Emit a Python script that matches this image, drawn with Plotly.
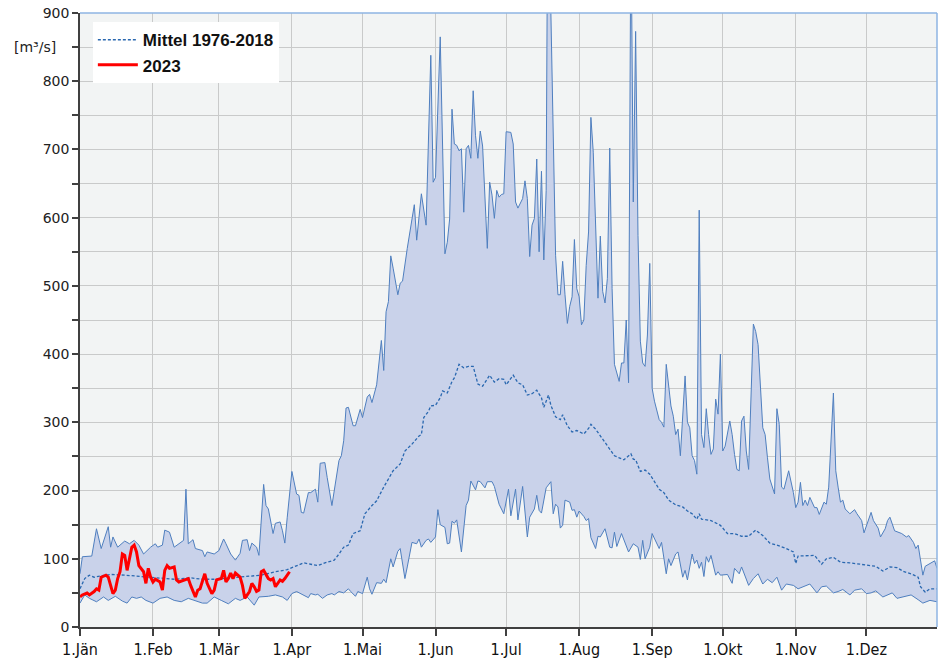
import plotly.graph_objects as go

# ---- x-axis categories (day of year of month starts) ----
month_days = [0, 31, 59, 90, 120, 151, 181, 212, 243, 273, 304, 334]
month_labels = ["1.Jän", "1.Feb", "1.Mär", "1.Apr", "1.Mai", "1.Jun",
                "1.Jul", "1.Aug", "1.Sep", "1.Okt", "1.Nov", "1.Dez"]

# ---- daily maximum 1976-2018 (day of year, m³/s) ----
max_q = [(0,78),(1,103),(5,104),(7,144),(9,115),(12,147),(13,117),(14,132),(16,117),(17,120),
         (19,126),(21,122),(23,127),(25,120),(27,107),(30,117),(32,122),(33,117),(35,120),(36,142),
         (38,139),(40,117),(42,122),(44,127),(45,202),(46,122),(48,128),(49,115),(52,112),(53,103),
         (54,110),(57,107),(59,112),(61,129),(62,122),(64,107),(66,98),(68,108),(69,127),(71,128),
         (72,112),(73,123),(75,117),(76,105),(78,209),(79,178),(80,173),(82,137),(83,152),(85,154),
         (86,141),(87,123),(88,160),(90,228),(92,195),(93,193),(94,168),(95,167),(97,197),(98,197),
         (100,202),(101,183),(102,240),(104,241),(105,219),(107,178),(110,244),(111,251),(112,273),
         (113,321),(114,322),(116,295),(117,295),(119,319),(120,307),(122,337),(123,341),(124,329),
         (126,355),(128,420),(129,376),(130,462),(131,477),(132,544),(133,526),(135,487),(136,504),
         (137,507),(139,555),(142,619),(143,567),(145,635),(147,589),(149,838),(150,652),(151,659),
         (153,865),(155,547),(156,564),(157,598),(158,759),(159,708),(160,706),(161,698),(162,701),
         (163,608),(164,701),(165,706),(166,687),(167,786),(168,720),(169,687),(170,727),(171,705),
         (173,555),(174,652),(175,633),(176,599),(177,640),(178,630),(179,634),(180,635),(181,726),
         (183,725),(184,708),(185,623),(186,614),(188,628),(189,654),(190,628),(191,543),(192,589),
         (193,599),(194,686),(195,550),(196,668),(197,538),(198,640),(199,1300),(200,900),(202,545),
         (203,487),(204,487),(205,536),(206,487),(207,445),(208,470),(209,484),(210,568),(211,496),
         (212,484),(213,443),(214,450),(215,530),(216,579),(217,747),(218,696),(219,598),(220,482),
         (221,573),(222,492),(223,475),(224,511),(225,702),(226,496),(227,385),(229,360),(230,387),
         (231,387),(232,450),(233,358),(234,1050),(235,623),(236,873),(237,574),(238,419),(239,387),
         (240,382),(241,428),(242,533),(243,350),(244,331),(246,304),(247,300),(248,293),(249,385),
         (250,353),(251,324),(252,309),(253,282),(254,290),(255,251),(257,368),(258,300),(259,292),
         (260,251),(261,244),(262,224),(263,611),(264,282),(265,263),(266,320),(267,282),(268,253),
         (269,261),(270,334),(271,312),(272,400),(273,258),(274,265),(276,302),(277,282),(278,253),
         (279,231),(280,229),(281,302),(282,309),(283,258),(284,231),(286,444),(287,433),(288,414),
         (290,292),(291,282),(292,248),(293,217),(295,195),(296,320),(297,297),(298,205),(299,202),
         (300,217),(301,229),(303,197),(304,175),(305,183),(306,212),(307,178),(308,186),(309,178),
         (310,190),(312,175),(313,175),(314,165),(316,183),(317,180),(318,205),(320,343),(321,229),
         (322,205),(323,183),(324,186),(325,173),(327,166),(329,172),(330,166),(331,160),(332,156),
         (333,138),(335,156),(336,168),(337,156),(339,145),(340,132),(342,144),(343,156),(344,161),
         (346,141),(348,139),(349,137),(351,132),(352,134),(354,124),(355,115),(356,120),(357,98),
         (358,76),(359,89),(361,93),(363,97),(364,86)]

# ---- daily minimum 1976-2018 ----
min_q = [(0,35),(2,47),(4,42),(7,37),(10,44),(12,39),(15,45),(18,38),(20,35),(22,44),(24,42),
         (26,44),(28,39),(31,35),(34,42),(37,44),(40,39),(43,37),(46,42),(49,38),(52,35),(54,35),
         (57,44),(60,39),(63,34),(66,42),(68,39),(71,44),(74,32),(76,44),(80,45),(83,47),(86,44),
         (88,39),(90,49),(92,52),(95,47),(97,43),(98,49),(100,47),(101,48),(103,42),(105,47),(107,49),
         (108,47),(110,52),(112,50),(114,56),(115,52),(117,45),(118,52),(120,49),(122,73),(123,56),
         (124,48),(126,65),(128,64),(129,70),(130,65),(132,100),(133,88),(135,111),(136,115),(138,71),
         (139,88),(141,124),(143,122),(144,129),(145,117),(147,127),(148,129),(149,124),(151,132),
         (152,172),(153,150),(155,146),(156,122),(157,123),(158,155),(159,152),(160,157),(162,110),
         (164,178),(165,186),(166,214),(168,201),(169,214),(170,213),(172,204),(173,213),(175,213),
         (176,206),(178,180),(180,166),(182,202),(183,163),(185,202),(186,157),(188,206),(190,132),
         (191,161),(193,173),(194,193),(195,171),(196,167),(198,204),(200,213),(201,166),(202,180),
         (203,176),(204,145),(205,149),(206,186),(208,183),(209,171),(210,172),(211,161),(212,170),
         (214,162),(215,156),(216,159),(217,131),(219,115),(220,133),(221,132),(223,144),(225,117),
         (226,116),(227,139),(228,118),(230,137),(232,120),(233,110),(235,122),(237,117),(238,99),
         (239,127),(240,100),(242,117),(243,137),(244,129),(246,115),(247,124),(249,78),(250,100),
         (251,90),(253,107),(254,110),(256,73),(257,83),(258,69),(260,107),(261,93),(262,98),(263,86),
         (264,95),(265,74),(266,103),(267,95),(268,105),(270,76),(271,81),(272,76),(275,77),(277,64),
         (278,86),(280,78),(281,88),(284,61),(286,71),(288,78),(290,63),(292,70),(294,65),(296,73),
         (298,54),(300,63),(303,61),(305,56),(308,60),(310,63),(313,50),(315,59),(317,60),(320,50),
         (322,52),(324,55),(327,47),(329,54),(332,56),(334,49),(336,50),(338,53),(341,44),(343,47),
         (345,50),(347,42),(350,44),(353,47),(356,40),(358,35),(361,39),(364,37)]

# ---- daily mean 1976-2018 ----
mean_q = [(0,56),(2,71),(4,76),(6,73),(9,75),(13,77),(19,76),(26,74),(33,72),(40,70),(47,72),
          (52,70),(57,70),(64,72),(71,74),(77,76),(83,81),(88,84),(90,87),(92,90),(95,94),(98,92),
          (101,90),(104,94),(108,98),(110,107),(112,117),(114,120),(116,137),(119,141),(121,166),
          (124,178),(126,185),(129,205),(133,229),(136,239),(138,258),(141,268),(144,280),(145,282),
          (146,307),(148,316),(149,324),(151,325),(153,336),(154,346),(156,343),(158,360),(159,365),
          (161,385),(163,380),(165,382),(167,382),(169,356),(171,353),(174,369),(176,359),(178,364),
          (180,363),(181,355),(184,369),(186,358),(188,355),(190,340),(192,342),(194,347),(196,336),
          (197,322),(199,340),(200,325),(202,308),(204,304),(205,311),(207,295),(209,286),(211,288),
          (214,283),(216,291),(217,297),(219,290),(222,275),(225,261),(227,251),(229,248),(231,245),
          (232,248),(234,254),(235,246),(236,245),(238,228),(240,230),(242,224),(244,212),(246,202),
          (248,197),(250,186),(253,179),(256,176),(258,170),(260,166),(262,158),(263,166),(264,158),
          (266,157),(268,156),(272,149),(275,137),(278,137),(281,133),(284,133),(287,142),(290,134),
          (293,123),(296,120),(300,115),(303,110),(304,93),(305,104),(308,104),(312,105),(315,92),
          (317,100),(320,102),(323,95),(327,94),(331,92),(334,90),(338,89),(341,82),(344,88),(347,87),
          (350,81),(353,78),(356,73),(357,59),(359,51),(361,56),(364,56)]

# ---- 2023 ----
q_2023 = [(0,44),(1,47),(3,50),(4,47),(6,52),(7,56),(8,54),(9,73),(11,76),(12,73),(14,49),(15,54),
          (16,71),(17,81),(18,107),(19,105),(20,83),(22,117),(23,120),(24,110),(25,90),(27,81),(28,64),
          (29,86),(30,73),(31,66),(32,70),(34,66),(35,54),(36,83),(37,90),(38,86),(40,88),(41,69),
          (42,66),(44,69),(46,71),(47,61),(49,44),(50,54),(51,56),(53,78),(54,64),(56,49),(57,54),
          (58,69),(60,71),(61,83),(62,66),(63,71),(64,79),(65,71),(66,79),(68,73),(69,61),(70,42),
          (72,52),(73,64),(74,59),(75,52),(76,54),(77,81),(78,83),(80,71),(81,69),(82,71),(83,59),
          (85,69),(86,67),(87,71),(89,81)]


def split(pairs):
    return [p[0] for p in pairs], [p[1] for p in pairs]


band_line = "#4F7FBF"
band_fill = "#C9D2EA"

fig = go.Figure()
mx, my = split(min_q)
fig.add_trace(go.Scatter(x=mx, y=my, mode="lines", line=dict(color=band_line, width=1),
                         showlegend=False, hoverinfo="skip"))
xx, xy = split(max_q)
fig.add_trace(go.Scatter(x=xx, y=xy, mode="lines", line=dict(color=band_line, width=1),
                         fill="tonexty", fillcolor=band_fill, showlegend=False, hoverinfo="skip"))
ax_, ay_ = split(mean_q)
fig.add_trace(go.Scatter(x=ax_, y=ay_, mode="lines", name="Mittel 1976-2018",
                         line=dict(color="#2A68B0", width=1.3, dash="3px,2px")))
rx, ry = split(q_2023)
fig.add_trace(go.Scatter(x=rx, y=ry, mode="lines", name="2023",
                         line=dict(color="#FF0000", width=3)))

grid = "#C9CACA"
fig.update_layout(
    width=942, height=665,
    margin=dict(l=80, r=5, t=10, b=38),
    paper_bgcolor="white", plot_bgcolor="#F2F4F4",
    showlegend=True,
    legend=dict(x=0.015, y=0.985, xanchor="left", yanchor="top",
                bgcolor="white", borderwidth=0, traceorder="normal",
                font=dict(family="Liberation Sans, Arial, sans-serif", size=17, color="#111",
                          weight="bold"),
                tracegroupgap=0, itemwidth=40),
    xaxis=dict(range=[0, 364], tickmode="array", tickvals=month_days, ticktext=month_labels,
               ticks="outside", ticklen=7, tickcolor="#404040", tickwidth=1.5,
               showline=True, linecolor="#404040", linewidth=1.5,
               showgrid=True, gridcolor=grid, gridwidth=1, zeroline=False,
               tickfont=dict(family="DejaVu Sans Condensed, Open Sans, sans-serif", size=16,
                             color="#111")),
    yaxis=dict(range=[0, 900], dtick=100, tick0=0,
               ticks="outside", ticklen=6, tickcolor="#404040", tickwidth=1.5,
               showline=True, linecolor="#404040", linewidth=1.5,
               showgrid=True, gridcolor=grid, gridwidth=1, zeroline=False,
               minor=dict(dtick=50, ticks="outside", ticklen=6, tickcolor="#404040",
                          showgrid=True, gridcolor=grid, gridwidth=1),
               tickfont=dict(family="DejaVu Sans, Verdana, sans-serif", size=14, color="#222")),
    shapes=[
        dict(type="line", xref="paper", yref="paper", x0=0, x1=1, y0=1, y1=1,
             line=dict(color="#8EB4E3", width=1.5)),
        dict(type="line", xref="paper", yref="paper", x0=1, x1=1, y0=0, y1=1,
             line=dict(color="#8EB4E3", width=1.5)),
    ],
    annotations=[
        dict(text="[m³/s]", xref="paper", yref="paper", x=-0.052, y=0.945,
             xanchor="center", yanchor="middle", showarrow=False,
             font=dict(family="DejaVu Sans, Verdana, sans-serif", size=14, color="#222")),
    ],
)

fig.write_html("out.html", config={"displayModeBar": False},
               post_script="document.body.style.margin='0';document.body.style.overflow='hidden';")
